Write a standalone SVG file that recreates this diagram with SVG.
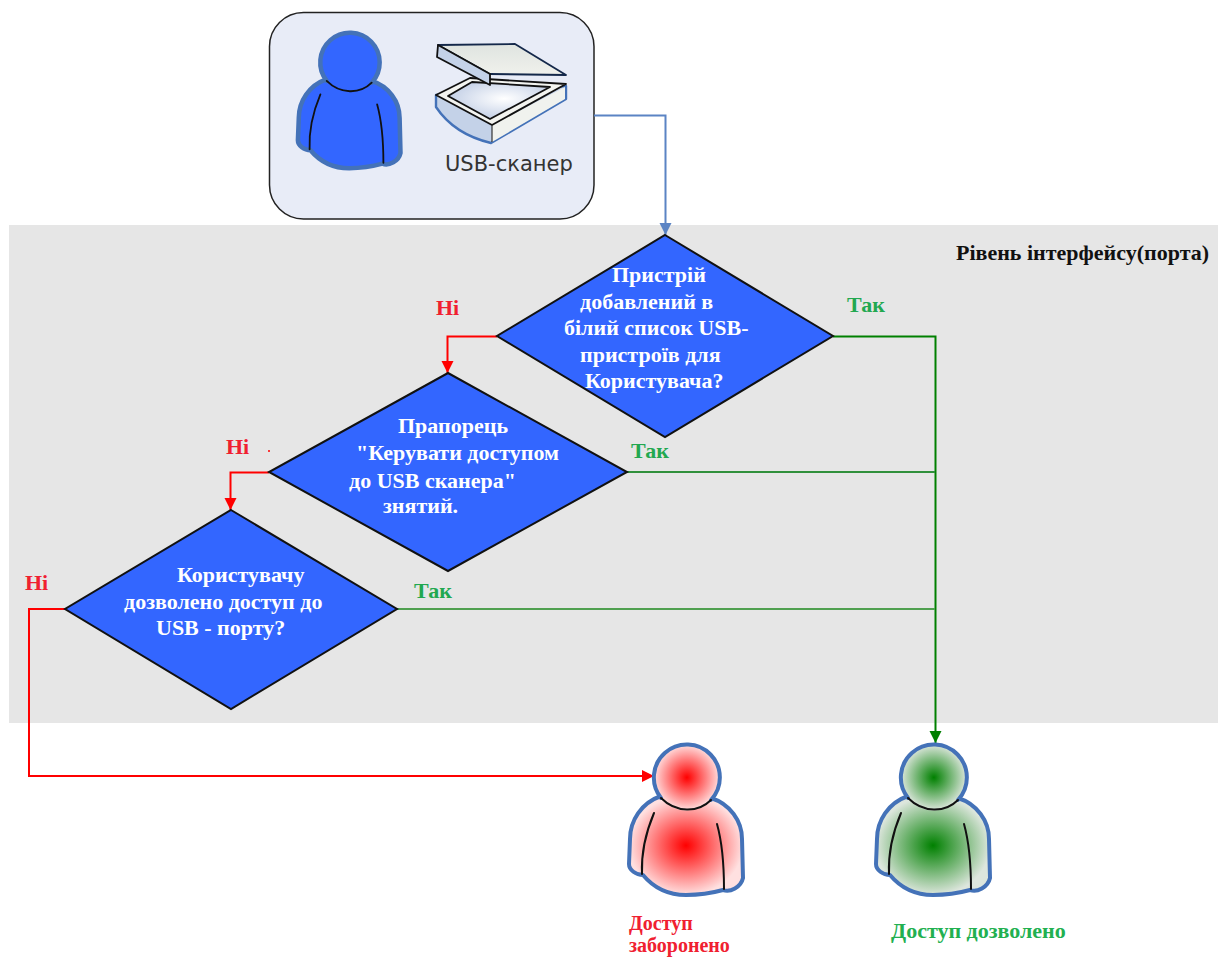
<svg xmlns="http://www.w3.org/2000/svg" xmlns:xlink="http://www.w3.org/1999/xlink" width="1218" height="958" viewBox="0 0 1218 958">
<style>
.dt{font-family:"Liberation Serif",serif;font-weight:bold;font-size:22px;fill:#fff}
.lb{font-family:"Liberation Serif",serif;font-weight:bold;font-size:22px}
.red{fill:#f02030}.grn{fill:#22a850}
.dia{fill:#3366ff;stroke:#111;stroke-width:2}
.c{fill:none;stroke-width:2}
.po{stroke:#4472b8;stroke-width:4;stroke-linejoin:round;stroke-linecap:round}
.pl{fill:none;stroke:#111;stroke-width:2;stroke-linecap:round}
.sc{stroke:#111;stroke-width:1.800;stroke-linejoin:round}
</style>
<defs>
<radialGradient id="gr"><stop offset="0" stop-color="#ff0000"/><stop offset="1" stop-color="#ffe0e0"/></radialGradient>
<radialGradient id="gg"><stop offset="0" stop-color="#008000"/><stop offset="1" stop-color="#dde6dd"/></radialGradient>
<radialGradient id="gs" cx="0.55" cy="0.45" r="0.55"><stop offset="0" stop-color="#fff"/><stop offset="1" stop-color="#c4d0e6"/></radialGradient>
<linearGradient id="gl" x1="0" y1="0" x2="0" y2="1"><stop offset="0" stop-color="#dfe4e0"/><stop offset="1" stop-color="#f0f1ec"/></linearGradient>
<marker id="ab" markerUnits="userSpaceOnUse" markerWidth="14" markerHeight="14" refX="12" refY="6" orient="auto"><path d="M0 0L12 6L0 12z" fill="#5b84c4"/></marker>
<marker id="ar" markerUnits="userSpaceOnUse" markerWidth="14" markerHeight="14" refX="12" refY="6" orient="auto"><path d="M0 0L12 6L0 12z" fill="#ff0000"/></marker>
<marker id="ag" markerUnits="userSpaceOnUse" markerWidth="14" markerHeight="14" refX="12" refY="6" orient="auto"><path d="M0 0L12 6L0 12z" fill="#008000"/></marker>
<path id="body" d="M-27 19C-47 26-58 44-58 62L-59 87C-59 93-52 98-45 98C-35 110-20 118-2 118C12 118 24 116 35 113C42 116 53 110 55 101L54 62C54 44 42 27 23 21Z"/>
<path id="hd" d="M-27 21A33 33 0 1 1 23 23A33 33 0 0 1 -27 21Z"/>
<path id="hs" d="M-27 21A33 33 0 1 1 23 23" fill="none"/>
<path id="ln" d="M-27 21C-12 36 10 36 23 23M-34 36C-42 55-47 75-46 97M29 47C34 65 36 90 36 112"/>
</defs>
<rect id="band" x="9" y="225" width="1209" height="498" fill="#e6e6e6"/>
<g id="source">
<rect x="269.500" y="12.500" width="324.500" height="206.500" rx="34" fill="#e8ecf7" stroke="#222" stroke-width="1.500"/>
<g id="user" transform="translate(351 62) scale(.9)">
<use xlink:href="#body" fill="#3366ff" class="po" style="stroke-width:5"/>
<use xlink:href="#hd" fill="#3366ff"/>
<use xlink:href="#hs" class="po" style="stroke-width:5"/>
<use xlink:href="#ln" class="pl"/>
</g>
<g id="scanner">
<path d="M436 95V107C450 128 470 138 491 143L566 99V86Z" fill="#c4d2e8" stroke="#4472b8" stroke-width="2.400" stroke-linejoin="round"/>
<path d="M492 125V142L565 99V87Z" fill="#f0f2ee"/>
<path d="M436 95L470 78L566 84L492 125Z" fill="#f3f4f0" class="sc"/>
<path d="M448 96L472 82L550 87L490 119Z" fill="url(#gs)" class="sc"/>
<path d="M492 125V142" stroke="#333" stroke-width="1.200"/>
<path d="M438 45L515 44L566 75L490 74Z" fill="url(#gl)" stroke="#14284a" stroke-width="1.800" stroke-linejoin="round"/>
<path d="M438 45L490 74V85L437 57Z" fill="#c4d2e8" class="sc"/>
<text x="445" y="171" font-family="DejaVu Sans,sans-serif" font-size="21" fill="#333">USB-сканер</text>
</g>
</g>
<g id="connectors">
<path class="c" d="M594 115.500H665.500V235" stroke="#5b84c4" marker-end="url(#ab)"/>
<path class="c" d="M497 336.500H447.500V373" stroke="#ff0000" marker-end="url(#ar)"/>
<path class="c" d="M269 472.500H230.500V510" stroke="#ff0000" marker-end="url(#ar)"/>
<path class="c" d="M65 609H29V776H654" stroke="#ff0000" marker-end="url(#ar)"/>
<path class="c" d="M833 336.500H935.500V743" stroke="#008000" marker-end="url(#ag)"/>
<path class="c" d="M627 472H935" stroke="#30903c"/>
<path class="c" d="M397 609H935" stroke="#50a050"/>
</g>
<g id="d1"><path class="dia" d="M665 235L833 336L665 437L497 336Z"/>
<text class="dt"><tspan x="612" y="282">Пристрій</tspan><tspan x="580" y="309">добавлений в</tspan><tspan x="564" y="335">білий список USB-</tspan><tspan x="580" y="362">пристроїв для</tspan><tspan x="585" y="388">Користувача?</tspan></text></g>
<g id="d2"><path class="dia" d="M448 373L627 472L448 571L269 472Z"/>
<text class="dt"><tspan x="398" y="433">Прапорець</tspan><tspan x="356" y="460">"Керувати доступом</tspan><tspan x="349" y="488">до USB сканера"</tspan><tspan x="383" y="513">знятий.</tspan></text></g>
<g id="d3"><path class="dia" d="M231 510L397 609L231 709L65 609Z"/>
<text class="dt"><tspan x="177" y="582">Користувачу</tspan><tspan x="124" y="609">дозволено доступ до</tspan><tspan x="156" y="635">USB - порту?</tspan></text></g>
<g id="labels">
<text x="956" y="260" font-family="Liberation Serif,serif" font-weight="bold" font-size="22" fill="#111">Рівень інтерфейсу(порта)</text>
<text class="lb red" x="436" y="315">Ні</text><text class="lb red" x="226" y="454">Ні</text><text class="lb red" x="25" y="590">Ні</text>
<text class="lb grn" x="847" y="312">Так</text><text class="lb grn" x="631" y="458">Так</text><text class="lb grn" x="414" y="598">Так</text>
<circle cx="269" cy="451" r="1" fill="#ff0000"/>
</g>
<g id="denied" transform="translate(688 777)">
<use xlink:href="#body" fill="url(#gr)" class="po"/>
<use xlink:href="#hd" fill="url(#gr)"/>
<use xlink:href="#hs" class="po"/>
<use xlink:href="#ln" class="pl"/>
<text class="lb" fill="#f02030" style="font-size:20px"><tspan x="-59" y="153">Доступ</tspan><tspan x="-59" y="175">заборонено</tspan></text>
</g>
<g id="allowed" transform="translate(935 777)">
<use xlink:href="#body" fill="url(#gg)" class="po"/>
<use xlink:href="#hd" fill="url(#gg)"/>
<use xlink:href="#hs" class="po"/>
<use xlink:href="#ln" class="pl"/>
<text class="lb" x="-44" y="161" fill="#22b050">Доступ дозволено</text>
</g>
</svg>
